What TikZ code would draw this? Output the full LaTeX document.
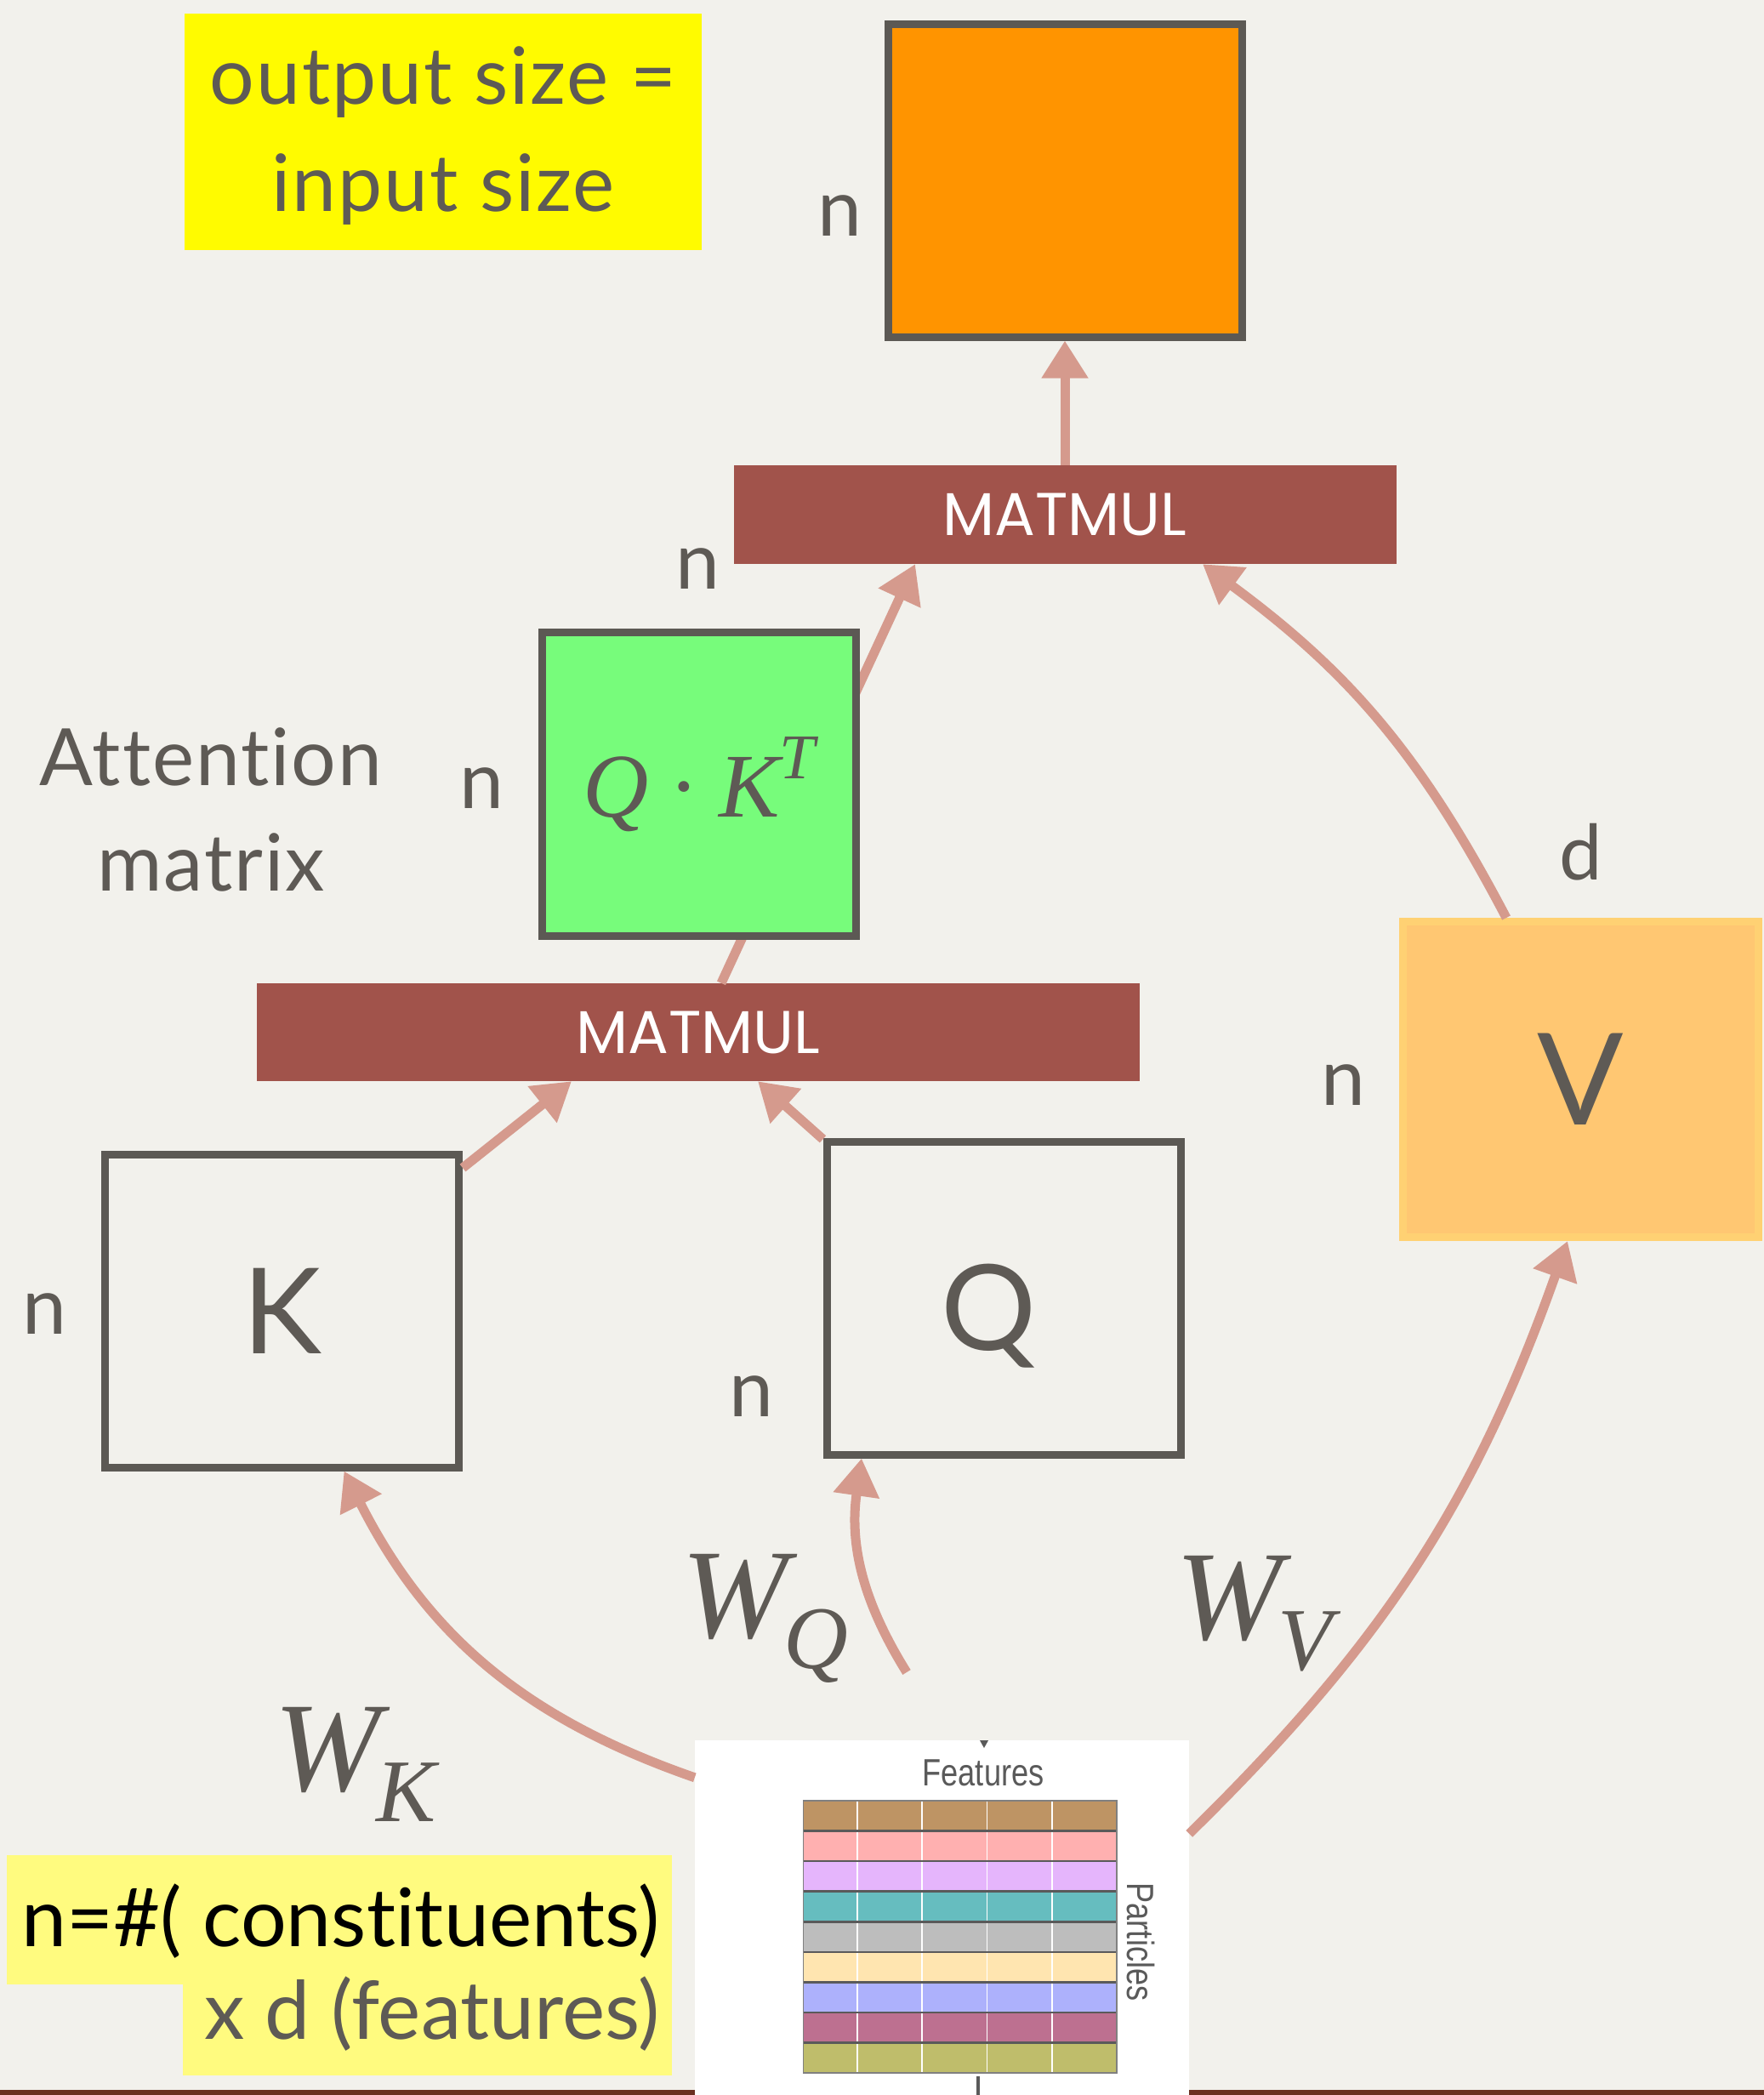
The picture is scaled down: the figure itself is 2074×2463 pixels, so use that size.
\documentclass[tikz,border=0pt]{standalone}
\usepackage{fontspec}
\setmainfont{Lato}[Ligatures={NoCommon}, LetterSpace=2]
\newfontfamily\plainlato{Lato}[Ligatures={NoCommon}]
\newfontfamily\mmfont{Poppins}
\newfontfamily\tmsfont{Liberation Serif}
\newfontfamily\arialfont{Liberation Sans}
\usetikzlibrary{arrows.meta}
\definecolor{bgc}{HTML}{F2F1EC}
\definecolor{txtc}{HTML}{5E5A55}
\definecolor{brdc}{HTML}{5C5954}
\definecolor{barc}{HTML}{A1534B}
\definecolor{arrc}{HTML}{D59A8D}
\definecolor{orc}{HTML}{FF9400}
\definecolor{grc}{HTML}{77FC7B}
\definecolor{vfc}{HTML}{FFC772}
\definecolor{vbc}{HTML}{FFD173}
\definecolor{yonec}{HTML}{FFFB00}
\definecolor{ytwoc}{HTML}{FFFB7F}
\definecolor{botc}{HTML}{6B3020}
\definecolor{gridc}{HTML}{5A5A5A}
\definecolor{rowa}{HTML}{BE9464}
\definecolor{rowb}{HTML}{FFB0B0}
\definecolor{rowc}{HTML}{E5B5FC}
\definecolor{rowd}{HTML}{66BDBF}
\definecolor{rowe}{HTML}{BDBDBD}
\definecolor{rowf}{HTML}{FFE5B0}
\definecolor{rowg}{HTML}{ADB1FC}
\definecolor{rowh}{HTML}{BD7090}
\definecolor{rowi}{HTML}{BFBD6B}
\newcommand\wsub[2]{#1\kern-0.03em\raisebox{-36pt}{\fontsize{105}{105}\selectfont #2}}
\tikzset{
  mbox/.style={draw=brdc, line width=9pt, minimum width=416pt, minimum height=368pt,
    inner sep=0pt, text=txtc, font=\fontsize{140}{140}\selectfont},
  mbar/.style={fill=barc, inner sep=0pt, text=white, font=\mmfont\fontsize{71}{71}\selectfont},
  dimlbl/.style={text=txtc, font=\fontsize{93}{93}\selectfont, inner sep=0pt},
  arr/.style={draw=arrc, line width=11pt, -{Triangle[width=52pt,length=44pt]}},
  wlbl/.style={text=txtc, font=\tmsfont\itshape\fontsize{150}{150}\selectfont, inner sep=0pt, anchor=base west},
  plotlbl/.style={text=gridc, font=\arialfont\fontsize{44.7}{44.7}\selectfont, inner sep=0pt},
}
\begin{document}
\begin{tikzpicture}[x=1pt,y=-1pt]
\fill[bgc] (0,0) rectangle (2074,2463);
\useasboundingbox (0,0) rectangle (2074,2463);
\fill[botc] (0,2457) rectangle (2074,2463);

% top-left note
\node[fill=yonec, minimum width=608pt, minimum height=278pt, inner sep=0pt] (ybox) at (521,155) {};
\node[text=txtc, font=\fontsize{93}{126}\selectfont, align=center, inner sep=0pt] (ytext) at (521,160) {output size =\\input size};

% output box
\node[mbox, fill=orc] (out) at (1252,212) {};
\node[dimlbl] (nout) at (987,254) {n};

% matmul bars
\node[mbar, minimum width=779pt, minimum height=116pt] (mm2) at (1252,605) {MATMUL};
\node[mbar, minimum width=1038pt, minimum height=115pt] (mm1) at (821,1213.5) {MATMUL};
\node[dimlbl] (nmm) at (820,669) {n};

\draw[arr] (mm2.north) -- (out.south);
\draw[arr] ([xshift=27pt]mm1.north) -- ([xshift=-176pt]mm2.south);

% attention matrix
\node[draw=brdc, line width=9pt, fill=grc, minimum width=369pt, minimum height=357pt, inner sep=0pt, text=txtc]
  (att) at (822,922) {\tmsfont\itshape\fontsize{107}{107}\selectfont Q\hspace{0.22em}{\upshape ·}\hspace{0.22em}K\raisebox{0.42em}{\fontsize{75}{75}\selectfont T}};
\node[dimlbl] (natt) at (566,927) {n};
\node[text=txtc, font=\fontsize{93}{124}\selectfont, align=center, inner sep=0pt] (attlbl) at (248,952) {Attention\\matrix};

% V
\node[mbox, draw=vbc, fill=vfc, minimum width=418pt, minimum height=371pt, font=\fontsize{150}{150}\selectfont] (V) at (1858,1269) {V};
\node[dimlbl] (nv) at (1579,1276) {n};
\node[dimlbl, font=\fontsize{90}{90}\selectfont] (dv) at (1859,1002) {d};
\draw[arr] ([xshift=-87pt]V.north) to[bend right=13] ([xshift=162pt]mm2.south);

% K and Q
\node[mbox] (K) at (331.5,1541) {K};
\node[dimlbl] (nk) at (52,1545) {n};
\node[mbox] (Q) at (1180,1526) {\hspace*{-34pt}\raisebox{-61pt}[0pt][0pt]{Q}};
\node[dimlbl] (nq) at (883,1642) {n};
\draw[arr] (K) -- ([xshift=-149pt]mm1.south);
\draw[arr] (Q) -- ([xshift=70pt]mm1.south);

% features picture
\node[fill=white, minimum width=581pt, minimum height=417pt, inner sep=0pt] (feat) at (1107.5,2254.5) {};
\foreach \c [count=\i from 0] in {rowa,rowb,rowc,rowd,rowe,rowf,rowg,rowh,rowi} {
  \fill[\c] (944.7,{2117+\i*35.56}) rectangle (1313,{2117+(\i+1)*35.56});
}
\foreach \xx in {1008,1084,1160.6,1237} {
  \draw[white, line width=1.5pt] (\xx,2117) -- (\xx,2437);
}
\foreach \i in {1,...,8} {
  \draw[gridc, line width=2.5pt] (944.7,{2117+\i*35.56}) -- (1313,{2117+\i*35.56});
}
\draw[gray, line width=1.5pt] (944.7,2117) rectangle (1313,2437);
\fill[gridc] (1152,2046) -- (1162,2046) -- (1157,2055) -- cycle;
\draw[gridc, line width=3.5pt] (1150,2441) -- (1150,2463);
\node[plotlbl] (featlbl) at (1156,2084) {\scalebox{0.81}[1]{Features}};
\node[plotlbl, rotate=-90] (partlbl) at (1341,2283) {\scalebox{0.81}[1]{Particles}};

% projection arrows
\coordinate (qstart) at (1066,1966);
\draw[arr] ([yshift=-44pt]feat.north west) to[bend left=22] ([xshift=73pt]K.south);
\draw[arr] (qstart) to[bend left=20] ([xshift=-167pt]Q.south);
\draw[arr] ([yshift=-110pt]feat.north east) to[bend right=13] ([xshift=-15pt]V.south);

\node[wlbl] (wk) at (322,2105) {\wsub{W}{K}};
\node[wlbl] (wq) at (801,1925) {\wsub{W}{Q}};
\node[wlbl] (wv) at (1382,1927) {\wsub{W}{V}};

% bottom-left note
\fill[ytwoc] (8,2181) rectangle (790,2333);
\fill[ytwoc] (215,2333) rectangle (790,2440);
\node[anchor=base east, inner sep=0pt, font=\plainlato\fontsize{95}{95}\selectfont, text=black] (nline) at (776,2288) {n=\#( constituents)};
\node[anchor=base east, inner sep=0pt, font=\plainlato\fontsize{95}{95}\selectfont, text=txtc] (dline) at (776,2397) {x d (features)};
\end{tikzpicture}
\end{document}
